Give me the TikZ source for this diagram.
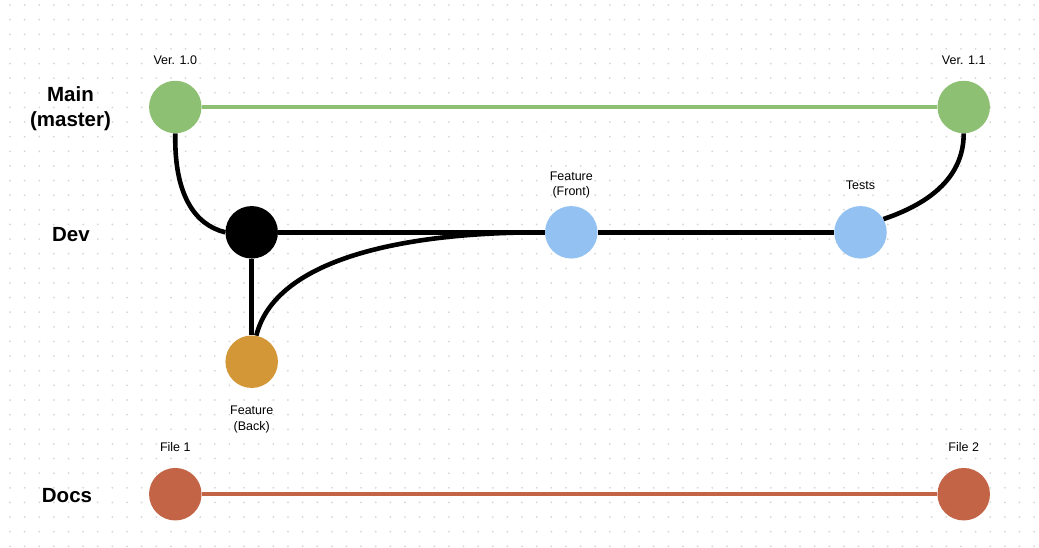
\documentclass[tikz,border=0pt]{standalone}
\usepackage{fontspec}
\setmainfont{Liberation Sans}
\usetikzlibrary{backgrounds}
\definecolor{gitgreen}{HTML}{8DC072}
\definecolor{gitblue}{HTML}{93C2F2}
\definecolor{gitorange}{HTML}{D39738}
\definecolor{gitred}{HTML}{C46446}
\definecolor{dotgrey}{HTML}{D6D6D6}
\begin{document}
\begin{tikzpicture}[x=1pt,y=-1pt,
  commit/.style={circle,minimum size=52.5pt,inner sep=0pt,draw=none},
  branchlbl/.style={font=\fontsize{20.5}{25}\selectfont\bfseries,align=center,inner sep=0pt},
  smalllbl/.style={font=\fontsize{12.5}{15.5}\selectfont,align=center,inner sep=0pt},
  link/.style={line width=4.6pt,black},
  mainlink/.style={line width=4.3pt,gitgreen},
  docslink/.style={line width=4.3pt,gitred},
]
% commits
\node[commit,fill=gitgreen] (v10) at (175.3,107) {};
\node[commit,fill=gitgreen] (v11) at (963.7,107) {};
\node[commit,fill=black] (dev) at (251.7,232.3) {};
\node[commit,fill=gitblue] (front) at (571.3,232.3) {};
\node[commit,fill=gitblue] (tests) at (860.5,232.3) {};
\node[commit,fill=gitorange] (back) at (251.7,361.7) {};
\node[commit,fill=gitred] (f1) at (175.3,494.2) {};
\node[commit,fill=gitred] (f2) at (963.7,494.2) {};
% branch labels
\node[branchlbl] (lmain) at (70.5,108.5) {Main\\(master)};
\node[branchlbl] (ldev) at (71,235) {Dev};
\node[branchlbl] (ldocs) at (67,495.5) {Docs};
% commit labels
\node[smalllbl] (t10) at (175.3,60.5) {Ver. 1.0};
\node[smalllbl] (t11) at (963.7,60.5) {Ver. 1.1};
\node[smalllbl] (tfront) at (571.3,185) {Feature\\(Front)};
\node[smalllbl] (ttests) at (860.5,185) {Tests};
\node[smalllbl] (tback) at (251.7,419.5) {Feature\\(Back)};
\node[smalllbl] (tf1) at (175.3,447) {File 1};
\node[smalllbl] (tf2) at (963.7,447) {File 2};
\begin{pgfonlayer}{background}
  \fill[white] (0,0) rectangle (1039,547);
  % dotted grid
  \foreach \i in {0,...,70}{
    \foreach \j in {0,...,37}{
      \fill[dotgrey] (10+\i*14.63,5+\j*14.63) circle (1pt);
    }
  }
  % connectors
  \draw[mainlink] (v10) -- (v11);
  \draw[docslink] (f1) -- (f2);
  \draw[link] (v10.south) .. controls (174,195) and (195,225) .. (dev.west);
  \draw[link] (dev) -- (front);
  \draw[link] (dev) -- (back);
  \draw[link] (back.80) .. controls (275,260) and (400,232) .. (front.west);
  \draw[link] (front) -- (tests);
  \draw[link] (tests.30) .. controls (940,200) and (963.7,170) .. (v11.south);
\end{pgfonlayer}
\useasboundingbox (0,0) rectangle (1039,547);
\end{tikzpicture}
\end{document}
